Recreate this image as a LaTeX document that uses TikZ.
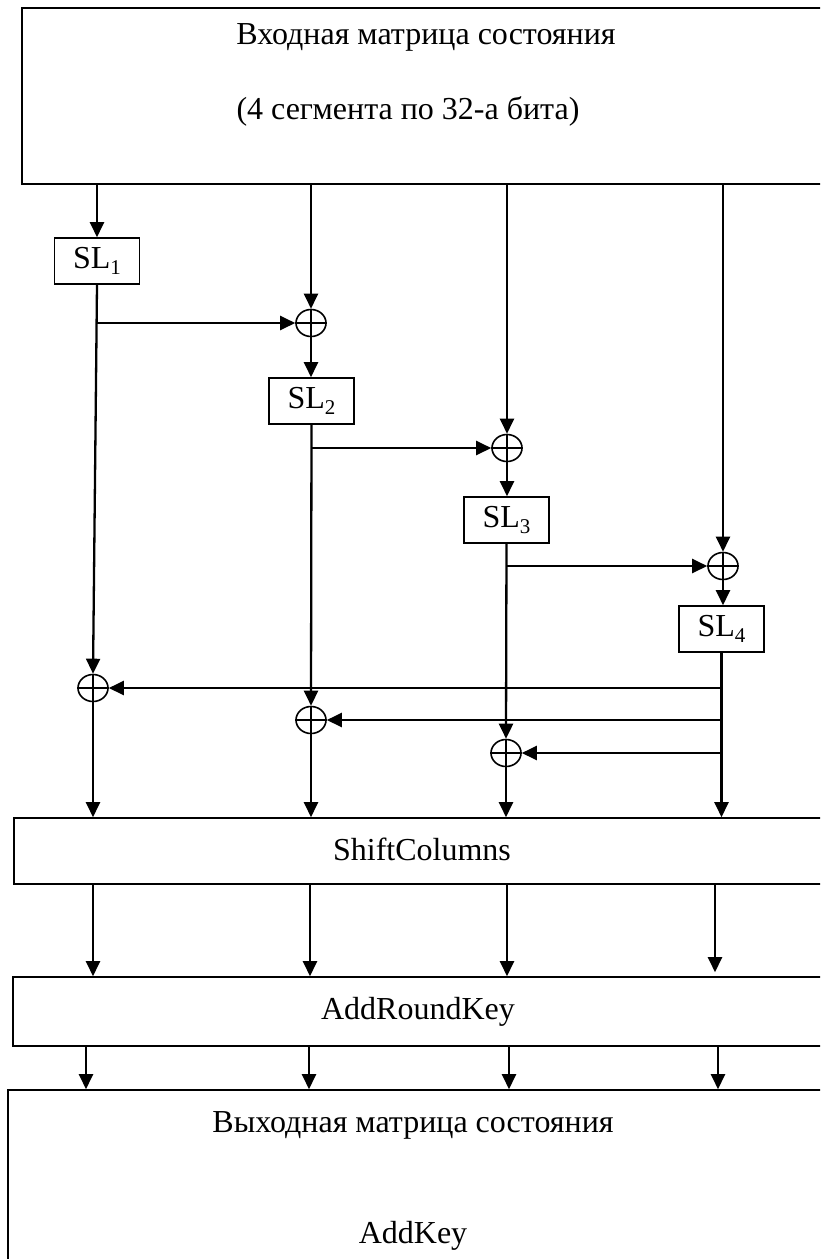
\documentclass[tikz,border=0pt]{standalone}
\usepackage{fontspec}
\setmainfont{Liberation Serif}
\usetikzlibrary{arrows.meta,shapes.geometric}
\newcommand{\slsub}[1]{SL\raisebox{-0.17em}{\fontsize{21}{24}\selectfont #1}}
\begin{document}
\begin{tikzpicture}[x=1pt,y=-1pt,
  arr/.style={line width=2.3pt,-{Triangle[length=15pt,width=14pt]}},
  bigbox/.style={draw,line width=1.6pt,rectangle,inner sep=0pt},
  slbox/.style={draw,line width=1.6pt,rectangle,minimum width=85pt,minimum height=46pt,inner sep=0pt,font=\fontsize{32}{36}\selectfont},
  txt/.style={font=\fontsize{32}{36}\selectfont,inner sep=0pt,anchor=base},
  xor/.style={draw,ellipse,line width=1.6pt,minimum width=30pt,minimum height=27pt,inner sep=0pt},
  cross/.style={line width=1.4pt}]
\useasboundingbox (0,0) rectangle (820,1259);
\fill[white] (0,0) rectangle (820,1259);
\clip (0,0) rectangle (820,1259);

% big boxes
\node[bigbox,minimum width=808pt,minimum height=176pt] (inbox) at (426,96) {};
\node[bigbox,minimum width=816pt,minimum height=66pt] (shift) at (422,851) {};
\node[bigbox,minimum width=817pt,minimum height=69pt] (ark) at (421.5,1011.5) {};
\node[bigbox,minimum width=822pt,minimum height=210pt] (outbox) at (419,1195) {};

% texts
\node[txt] (t1) at (426,44) {Входная матрица состояния};
\node[txt] (t2) at (408,119) {(4 сегмента по 32-а бита)};
\node[txt] (t3) at (422,860) {ShiftColumns};
\node[txt] (t4) at (418,1019) {AddRoundKey};
\node[txt] (t5) at (413,1132) {Выходная матрица состояния};
\node[txt] (t6) at (413,1243) {AddKey};

% SL boxes
\node[slbox] (sl1) at (97,261) {\slsub{1}};
\node[slbox] (sl2) at (311.5,401) {\slsub{2}};
\node[slbox] (sl3) at (506.5,520) {\slsub{3}};
\node[slbox] (sl4) at (721.5,629) {\slsub{4}};

% XORs
\node[xor] (x2) at (311,323) {};
\node[xor] (x3) at (507,448) {};
\node[xor] (x4) at (723,566) {};
\node[xor] (y1) at (93,688) {};
\node[xor] (y2) at (311,720) {};
\node[xor] (y3) at (506,753) {};
\foreach \n in {x2,x3,x4,y1,y2,y3}
  \draw[cross] (\n.north) -- (\n.south) (\n.west) -- (\n.east);

% from input box
\draw[arr] (sl1 |- inbox.south) -- (sl1.north);
\draw[arr] (x2 |- inbox.south) -- (x2.north);
\draw[arr] (x3 |- inbox.south) -- (x3.north);
\draw[arr] (x4 |- inbox.south) -- (x4.north);

% xor -> SL
\draw[arr] (x2.south) -- (x2.south |- sl2.north);
\draw[arr] (x3.south) -- (x3.south |- sl3.north);
\draw[arr] (x4.south) -- (x4.south |- sl4.north);

% SL down to lower xors
\draw[arr] (sl1.south) -- (y1.north);
\draw[arr] (sl2.south) -- (y2.north);
\draw[arr] (sl3.south) -- (y3.north);

% branches
\draw[arr] (sl1.south |- x2.west) -- (x2.west);
\draw[arr] (sl2.south |- x3.west) -- (x3.west);
\draw[arr] (sl3.south |- x4.west) -- (x4.west);

% SL4 feedback
\draw[arr] (sl4.south) -- (sl4.south |- shift.north);
\draw[arr] (sl4.south |- y1.east) -- (y1.east);
\draw[arr] (sl4.south |- y2.east) -- (y2.east);
\draw[arr] (sl4.south |- y3.east) -- (y3.east);

% lower xors to ShiftColumns
\draw[arr] (y1.south) -- (y1.south |- shift.north);
\draw[arr] (y2.south) -- (y2.south |- shift.north);
\draw[arr] (y3.south) -- (y3.south |- shift.north);

% ShiftColumns -> AddRoundKey
\coordinate (k1) at (93,0);
\coordinate (k2) at (310,0);
\coordinate (k3) at (507,0);
\coordinate (k4) at (715,0);
\draw[arr] (k1 |- shift.south) -- (k1 |- ark.north);
\draw[arr] (k2 |- shift.south) -- (k2 |- ark.north);
\draw[arr] (k3 |- shift.south) -- (k3 |- ark.north);
\draw[arr,shorten >=4pt] (k4 |- shift.south) -- (k4 |- ark.north);

% AddRoundKey -> output
\coordinate (m1) at (86,0);
\coordinate (m2) at (309,0);
\coordinate (m3) at (509,0);
\coordinate (m4) at (718,0);
\draw[arr] (m1 |- ark.south) -- (m1 |- outbox.north);
\draw[arr] (m2 |- ark.south) -- (m2 |- outbox.north);
\draw[arr] (m3 |- ark.south) -- (m3 |- outbox.north);
\draw[arr] (m4 |- ark.south) -- (m4 |- outbox.north);
\end{tikzpicture}
\end{document}
